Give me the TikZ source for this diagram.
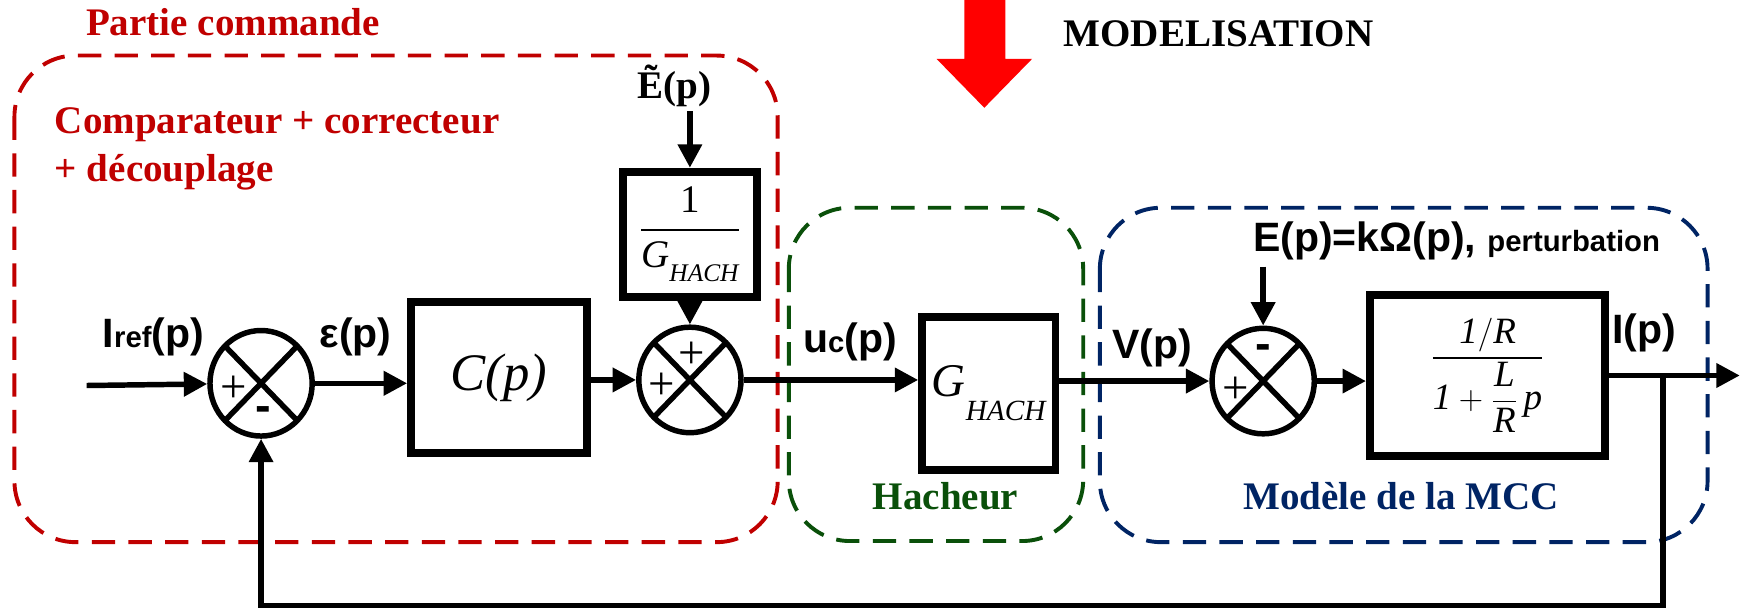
\documentclass[tikz,border=0pt]{standalone}
\usepackage{amsmath}
\usepackage{fontspec}
\setmainfont{Liberation Serif}
\setsansfont{Liberation Sans}
\usetikzlibrary{arrows.meta, positioning, shapes.geometric, calc}
\definecolor{cmdred}{RGB}{192,0,0}
\definecolor{hachgreen}{RGB}{10,80,10}
\definecolor{mccblue}{RGB}{0,36,100}
\definecolor{modred}{RGB}{255,0,0}

\begin{document}
\begin{tikzpicture}[x=0.2mm, y=-0.2mm, line width=2.8pt,
    >={Triangle[length=12pt,width=12pt]},
    block/.style={draw, line width=4pt, inner sep=0pt},
    sum/.style={draw, ellipse, line width=2.8pt, inner sep=0pt,
      minimum width=18.4mm, minimum height=19mm,
      path picture={\draw[line width=2.8pt]
        (path picture bounding box.north west) -- (path picture bounding box.south east)
        (path picture bounding box.north east) -- (path picture bounding box.south west);}},
    sig/.style={font=\sffamily\bfseries\fontsize{21}{24}\selectfont, inner sep=1pt},
    plus/.style={font=\fontsize{24}{24}\selectfont, inner sep=0pt},
    minus/.style={font=\sffamily\bfseries\fontsize{24}{24}\selectfont, inner sep=0pt},
    zone/.style={dash pattern=on 4.2mm off 2.4mm, line width=2pt, rounded corners=11mm},
    title/.style={font=\bfseries\fontsize{20}{25}\selectfont, inner sep=0pt}]
  \useasboundingbox (0,0) rectangle (1568,554);

  % zones
  \draw[zone, cmdred] (13,50) rectangle (700,488);
  \draw[zone, hachgreen] (710,187) rectangle (975,487);
  \draw[zone, mccblue] (990,187) rectangle (1537,488);

  \node[title, text=cmdred, anchor=west] (partie) at (75,20) {Partie commande};
  \node[title, text=cmdred, anchor=north west, align=left] (comp) at (47,94)
    {Comparateur + correcteur\\+ découplage};
  \node[title, text=hachgreen] (hach) at (851,447) {Hacheur};
  \node[title, text=mccblue] (mcc) at (1261,447) {Modèle de la MCC};

  % modelisation
  \fill[modred] (868,0) -- (905,0) -- (905,53) -- (929,53) -- (886,97) -- (843,53) -- (868,53) -- cycle;
  \node[title, anchor=west] (modl) at (955,30) {MODELISATION};

  % blocks
  \node[sum] (s1) at (235,345) {};
  \node[block, minimum width=31.6mm, minimum height=27.2mm] (cp) at (449,340)
    {\fontsize{27}{27}\selectfont\itshape C(p)};
  \node[sum] (s2) at (621,342) {};
  \node[block, minimum width=24.2mm, minimum height=22.6mm] (ginv) at (621,211)
    {\fontsize{20}{20}\selectfont$\dfrac{\text{1}}{\text{\itshape G\raisebox{-0.8ex}{\fontsize{13}{13}\selectfont HACH}}}$};
  \node[block, minimum width=24mm, minimum height=27.6mm] (gh) at (890,354)
    {\fontsize{24}{24}\selectfont\itshape G\raisebox{-1.1ex}{\fontsize{15}{15}\selectfont HACH}};
  \node[sum] (s3) at (1137,343) {};
  \node[block, minimum width=42.4mm, minimum height=29mm] (tf) at (1339,338)
    {\fontsize{19}{22}\selectfont$\dfrac{\textit{1}/\textit{R}}{\textit{1}+\dfrac{\textit{L}}{\textit{R}}\,\textit{p}}$};

  % signs
  \node[plus] at ($(s1.center)+(-25,5)$) {+};
  \node[minus] at ($(s1.center)+(2,28)$) {-};
  \node[plus] at ($(s2.center)+(-25,6)$) {+};
  \node[plus] at ($(s2.center)+(2,-22)$) {+};
  \node[plus] at ($(s3.center)+(-25,8)$) {+};
  \node[minus] at ($(s3.center)+(0,-26)$) {-};

  % signals
  \node[sig] (iref) at (138,303) {I{\fontsize{15}{15}\selectfont ref}(p)};
  \node[sig] (eps) at (320,303) {ε(p)};
  \node[sig] (uc) at (765,308) {u{\fontsize{15}{15}\selectfont c}(p)};
  \node[sig] (vp) at (1037,313) {V(p)};
  \node[sig] (ip) at (1480,300) {I(p)};
  \node[sig] (pert) at (1311,217) {E(p)=kΩ(p), {\fontsize{15}{15}\selectfont perturbation}};
  \node[font=\bfseries\fontsize{20}{24}\selectfont, inner sep=0pt] (etil) at (607,77) {Ẽ(p)};
  \node[font=\fontsize{20}{24}\selectfont, anchor=west] (page) at (1558,535) {1};

  \coordinate (in) at (78,347);
  \coordinate (etop) at (621,100);
  \coordinate (ptop) at (1137,240);
  \coordinate (iout) at (1566,338);
  \coordinate (tap) at (1497,338);
  \coordinate (fb) at (1497,545);

  % connectors
  \draw[->] (in) -- (s1);
  \draw[->] (s1) -- (s1 -| cp.west);
  \draw[->] (cp.east |- s2) -- (s2);
  \draw[->] (etop) -- (ginv);
  \draw[->] (ginv) -- (s2);
  \draw[->] (s2) -- (s2 -| gh.west);
  \draw[->] (gh.east |- s3) -- (s3);
  \draw[->] (ptop) -- (s3);
  \draw[->] (s3) -- (s3 -| tf.west);
  \draw[->] (tf.east) -- (iout);
  \draw[->] (tap) -- (fb) -- (fb -| s1) -- (s1);
\end{tikzpicture}
\end{document}
